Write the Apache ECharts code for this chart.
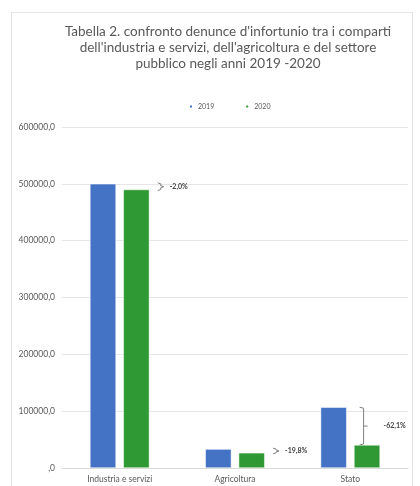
<!DOCTYPE html>
<html>
<head>
<meta charset="utf-8">
<script src="https://cdn.jsdelivr.net/npm/echarts@6/dist/echarts.min.js"></script>
<style>
  html, body { margin: 0; padding: 0; background: #ffffff; }
  #frame { position: absolute; left: 11px; top: 12px; width: 402px; height: 480px; border: 1px solid #e4e4e4; box-sizing: border-box; }
  #chart { position: absolute; left: 0; top: 0; width: 420px; height: 486px; }
</style>
</head>
<body>
<div id="frame"></div>
<div id="chart"></div>
<script>
// Denunce d'infortunio per comparto, 2019 vs 2020
const categories = ['Industria e servizi', 'Agricoltura', 'Stato'];
const values2019 = [500000, 33300, 107000];
const values2020 = [490000, 26700, 40500];
const changeLabels = ['-2,0%', '-19,8%', '-62,1%'];
const yTicks = { min: 0, max: 600000, interval: 100000 };

const FONT = 'Lato, "Open Sans", sans-serif';
const BLUE = '#4472c4';
const GREEN = '#2f9a33';

// bracket data: category index, 2019 value, 2020 value, label
const bracketData = categories.map((c, i) => [i, values2019[i], values2020[i], changeLabels[i]]);

const chart = echarts.init(document.getElementById('chart'), null, { renderer: 'canvas' });

function renderBracket(params, api) {
  const idx = api.value(0);
  const top = api.coord([idx, api.value(1)]);
  const bottom = api.coord([idx, api.value(2)]);
  const band = api.size([1, 0])[0];
  const label = changeLabels[params.dataIndex];
  const y1 = top[1], y2 = bottom[1], ym = (y1 + y2) / 2;
  const tall = (y2 - y1) > 20;
  const stroke = { stroke: '#7f7f7f', lineWidth: 1, fill: null };
  const textStyle = { text: label, fill: '#404040', font: 'bold 7px ' + FONT, verticalAlign: 'middle', align: 'left' };
  if (tall) {
    // long bracket drawn over the 2020 bar
    const x = top[0] + band * 0.115;
    return {
      type: 'group',
      children: [
        { type: 'polyline', shape: { points: [[x - 4, y1], [x, y1 + 1], [x, y2 - 1], [x - 4, y2]] }, style: stroke },
        { type: 'line', shape: { x1: x, y1: ym, x2: x + 4, y2: ym }, style: stroke },
        { type: 'text', x: x + 20, y: ym, style: textStyle }
      ]
    };
  }
  const x = top[0] + band * 0.33;
  return {
    type: 'group',
    children: [
      { type: 'polyline', shape: { points: [[x, y1 - 1], [x + 3, y1], [x + 3, ym - 1], [x + 6, ym], [x + 3, ym + 1], [x + 3, y2], [x, y2 + 1]] }, style: stroke },
      { type: 'text', x: x + 12, y: ym, style: textStyle }
    ]
  };
}

chart.setOption({
  animation: false,
  backgroundColor: 'transparent',
  textStyle: { fontFamily: FONT },
  title: {
    text: "Tabella 2. confronto denunce d'infortunio tra i comparti\ndell'industria e servizi, dell'agricoltura e del settore\npubblico negli anni 2019 -2020",
    left: 223,
    textAlign: 'center',
    top: 19,
    textStyle: { fontFamily: FONT, fontSize: 13.5, fontWeight: 'normal', color: '#595959', lineHeight: 16, align: 'center' }
  },
  legend: {
    top: 98,
    left: 183,
    itemWidth: 4,
    itemHeight: 4,
    itemGap: 30,
    icon: 'rect',
    textStyle: { fontSize: 7, color: '#595959', fontFamily: FONT },
    data: ['2019', '2020']
  },
  grid: { left: 62, right: 12, top: 127, bottom: 18, containLabel: false },
  xAxis: {
    type: 'category',
    data: categories,
    axisLine: { lineStyle: { color: '#d9d9d9' } },
    axisTick: { show: false },
    axisLabel: { fontSize: 8.5, color: '#595959', margin: 7 }
  },
  yAxis: {
    type: 'value',
    min: yTicks.min,
    max: yTicks.max,
    interval: yTicks.interval,
    axisLine: { show: false },
    axisTick: { show: false },
    splitLine: { lineStyle: { color: '#e6e6e6' } },
    axisLabel: {
      fontSize: 8.5,
      color: '#595959',
      margin: 7,
      formatter: v => (v === 0 ? '' : String(v)) + ',0'
    }
  },
  series: [
    {
      name: '2019', type: 'bar', data: values2019, barWidth: '22.6%', barGap: '28%',
      itemStyle: { color: BLUE, borderColor: '#ffffff', borderWidth: 0.5 }
    },
    {
      name: '2020', type: 'bar', data: values2020, barWidth: '22.6%', barGap: '28%',
      itemStyle: { color: GREEN, borderColor: '#ffffff', borderWidth: 0.5 }
    },
    {
      name: 'variazione', type: 'custom', data: bracketData, renderItem: renderBracket,
      encode: { x: 0, y: [1, 2] }, z: 5, silent: true
    }
  ]
});
</script>
</body>
</html>
